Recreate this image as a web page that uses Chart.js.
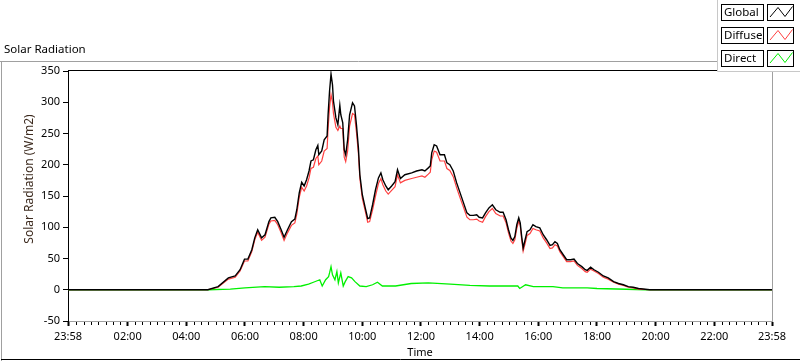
<!DOCTYPE html>
<html>
<head>
<meta charset="utf-8">
<script src="https://cdn.jsdelivr.net/npm/chart.js@4/dist/chart.umd.min.js"></script>
<style>
  html, body { margin: 0; padding: 0; background: #fff; }
  #wrap { width: 800px; height: 361px; }
</style>
</head>
<body>
<div id="wrap"><canvas id="c" width="800" height="361"></canvas></div>
<script>
// minutes since midnight; -2 and 1438 are both shown as 23:58
const times = [-2, 284, 305, 326, 340, 350, 359, 366, 374, 380,
  386, 394, 401, 409, 413, 421, 427, 434, 440, 447,
  455, 462, 466, 471, 476, 481, 486, 491, 495, 500,
  505, 509, 511, 517, 522, 528, 530, 533, 536, 539,
  541, 546, 550, 554, 556, 560, 563, 566, 570, 574,
  580, 584, 588, 592, 595, 600, 606, 611, 615, 621,
  627, 633, 638, 642, 648, 653, 660, 667, 672, 678,
  687, 701, 711, 722, 728, 735, 739, 742, 747, 752,
  759, 768, 773, 779, 786, 793, 800, 807, 814, 820,
  827, 834, 839, 846, 852, 859, 866, 873, 882, 888,
  894, 899, 904, 908, 912, 916, 920, 923, 926, 929,
  933, 937, 943, 949, 955, 963, 970, 977, 984, 989,
  994, 999, 1004, 1011, 1018, 1026, 1033, 1040, 1049, 1056,
  1060, 1067, 1074, 1083, 1093, 1103, 1114, 1124, 1134, 1144,
  1154, 1165, 1188, 1438];

const globalVals = [0, 0, 5, 19, 22, 32, 49, 49, 64, 83,
  96, 83, 88, 109, 115, 116, 109, 96, 84, 96,
  109, 113, 128, 155, 172, 166, 176, 190, 206, 208,
  224, 231, 216, 222, 240, 246, 280, 318, 345, 328,
  302, 275, 264, 295, 280, 267, 224, 216, 240, 280,
  299, 294, 264, 227, 184, 152, 131, 114, 115, 136,
  160, 179, 187, 176, 166, 160, 166, 173, 192, 178,
  184, 187, 190, 192, 190, 195, 198, 219, 232, 230,
  216, 216, 203, 200, 190, 171, 155, 139, 123, 119,
  119, 120, 116, 115, 123, 131, 136, 128, 124, 124,
  112, 96, 83, 79, 85, 104, 115, 107, 85, 67,
  80, 93, 96, 104, 101, 99, 88, 80, 71, 72,
  77, 74, 64, 56, 48, 48, 49, 42, 37, 32,
  31, 36, 32, 28, 22, 19, 13, 10, 8, 5,
  4, 2, 0, 0];

const diffuseVals = [0, 0, 4, 17, 20, 30, 46, 46, 61, 80,
  92, 79, 84, 105, 110, 111, 104, 91, 79, 91,
  103, 107, 121, 148, 164, 158, 166, 179, 194, 196,
  210, 214, 200, 206, 222, 226, 258, 292, 312, 300,
  282, 260, 255, 262, 258, 258, 212, 205, 222, 262,
  282, 280, 252, 218, 178, 146, 126, 108, 109, 128,
  150, 170, 178, 168, 158, 153, 159, 165, 184, 171,
  175, 178, 180, 182, 180, 185, 188, 208, 222, 220,
  206, 206, 194, 191, 181, 163, 147, 132, 116, 112,
  112, 113, 110, 108, 117, 125, 130, 122, 118, 118,
  107, 91, 78, 74, 80, 98, 110, 103, 80, 62,
  74, 87, 90, 98, 96, 94, 83, 75, 66, 67,
  72, 70, 61, 53, 45, 45, 46, 39, 34, 29,
  28, 33, 30, 26, 20, 17, 12, 9, 7, 4,
  3, 1, 0, 0];

const directTimes = [-2, 285, 330, 360, 400, 430, 460, 475, 490, 500,
  513, 518, 525, 531, 533, 536, 539, 544, 548, 551,
  556, 561, 565, 571, 578, 585, 595, 608, 621, 631,
  641, 668, 700, 735, 780, 820, 860, 900, 918, 922,
  934, 950, 990, 1010, 1060, 1080, 1180, 1438];
const directVals = [0, 0, 1, 3, 5, 4, 5, 6, 9, 12,
  16, 6, 16, 21, 27, 37, 24, 16, 29, 11,
  27, 6, 13, 21, 19, 13, 6, 5, 8, 12,
  6, 6, 10, 11, 9, 7, 6, 6, 6, 2,
  8, 5, 5, 3, 3, 2, 0, 0];

const seriesNames = ['Global', 'Diffuse', 'Direct'];
const seriesColors = ['#000000', '#ff4040', '#00f000'];
const xTickMinutes = [-2, 120, 240, 360, 480, 600, 720, 840, 960, 1080, 1200, 1320, 1438];
const yTickValues = [-50, 0, 50, 100, 150, 200, 250, 300, 350];

const FONT = 'Noto Sans';

function fmt(m) {
  if (m < 0) m += 1440;
  const h = Math.floor(m / 60), mm = m % 60;
  return String(h).padStart(2, '0') + ':' + String(mm).padStart(2, '0');
}

const pts = (xs, ys) => xs.map((x, i) => ({ x: x, y: ys[i] }));

// frame, titles, minor ticks and the boxed legend
const decor = {
  id: 'decor',
  afterDraw(chart) {
    const ctx = chart.ctx, a = chart.chartArea, xs = chart.scales.x;
    ctx.save();
    // outer frame
    ctx.lineWidth = 1;
    ctx.strokeStyle = '#a0a0a0';
    ctx.beginPath();
    ctx.moveTo(0, 61.5); ctx.lineTo(717, 61.5);
    ctx.moveTo(1.5, 61.5); ctx.lineTo(1.5, 361);
    ctx.stroke();
    ctx.strokeStyle = '#000';
    ctx.beginPath();
    ctx.moveTo(1, 359.5); ctx.lineTo(800, 359.5);
    ctx.stroke();
    // plot frame top / right
    ctx.beginPath();
    ctx.strokeStyle = '#000';
    ctx.moveTo(a.left, a.top - 0.5); ctx.lineTo(a.right, a.top - 0.5);
    ctx.stroke();
    ctx.beginPath();
    ctx.strokeStyle = '#a0a0a0';
    ctx.moveTo(a.right + 0.5, a.top); ctx.lineTo(a.right + 0.5, a.bottom + 1);
    ctx.stroke();
    // minor x ticks every 15 min
    ctx.strokeStyle = '#000';
    ctx.beginPath();
    for (let m = 15; m < 1438; m += 15) {
      if (m % 120 === 0) continue;
      const px = Math.round(xs.getPixelForValue(m)) + 0.5;
      ctx.moveTo(px, a.bottom + 1); ctx.lineTo(px, a.bottom + 4);
    }
    ctx.stroke();
    // texts
    ctx.fillStyle = '#000';
    ctx.font = '11.5px "' + FONT + '"';
    ctx.textBaseline = 'middle';
    ctx.textAlign = 'left';
    ctx.fillText('Solar Radiation', 4, 50);
    ctx.textAlign = 'center';
    ctx.font = '11px "' + FONT + '"';
    ctx.fillText('Time', (a.left + a.right) / 2, 353);
    ctx.save();
    ctx.translate(30, 179);
    ctx.rotate(-Math.PI / 2);
    ctx.fillStyle = '#3d2b1f';
    ctx.font = '12px "' + FONT + '"';
    ctx.fillText('Solar Radiation (W/m2)', 0, 0);
    ctx.restore();
    // legend panel
    ctx.fillStyle = '#fff';
    ctx.fillRect(717, 0, 83, 71);
    ctx.strokeStyle = '#c8c8c8';
    ctx.beginPath();
    ctx.moveTo(717.5, 0); ctx.lineTo(717.5, 71.5); ctx.lineTo(800, 71.5);
    ctx.stroke();
    seriesNames.forEach((name, i) => {
      const y0 = 4 + i * 23;
      ctx.strokeStyle = '#000';
      ctx.strokeRect(721.5, y0 + 0.5, 42, 16);
      ctx.strokeRect(767.5, y0 + 0.5, 26, 16);
      ctx.fillStyle = '#000';
      ctx.textAlign = 'left';
      ctx.font = '11.5px "' + FONT + '"';
      ctx.fillText(name, 724, y0 + 8.5);
      ctx.strokeStyle = seriesColors[i];
      ctx.beginPath();
      ctx.moveTo(770, y0 + 13); ctx.lineTo(778, y0 + 3.5);
      ctx.lineTo(785, y0 + 12.5); ctx.lineTo(792.5, y0 + 2.5);
      ctx.stroke();
    });
    ctx.restore();
  }
};

new Chart(document.getElementById('c'), {
  type: 'line',
  data: {
    datasets: [
      { label: seriesNames[0], data: pts(times, globalVals), borderColor: seriesColors[0], borderWidth: 1.4 },
      { label: seriesNames[1], data: pts(times, diffuseVals), borderColor: seriesColors[1], borderWidth: 1.2 },
      { label: seriesNames[2], data: pts(directTimes, directVals), borderColor: seriesColors[2], borderWidth: 1.3 }
    ]
  },
  options: {
    responsive: false,
    animation: false,
    events: [],
    layout: { padding: { left: 0, right: 28, top: 71, bottom: 0 } },
    elements: {
      line: { tension: 0, fill: false },
      point: { radius: 0 }
    },
    plugins: { legend: { display: false }, tooltip: { enabled: false }, title: { display: false } },
    scales: {
      x: {
        type: 'linear',
        min: -2, max: 1438,
        afterBuildTicks: s => { s.ticks = xTickMinutes.map(v => ({ value: v })); },
        afterFit: s => { s.height = 40; },
        border: { color: '#a0a0a0', width: 1 },
        grid: { drawOnChartArea: false, tickLength: 5, tickWidth: 2, tickColor: '#000' },
        ticks: {
          maxRotation: 0, autoSkip: false, padding: 4,
          color: '#000', font: { family: FONT, size: 11 },
          callback: v => fmt(v)
        }
      },
      y: {
        min: -50, max: 350,
        afterBuildTicks: s => { s.ticks = yTickValues.map(v => ({ value: v })); },
        afterFit: s => { s.width = 68; },
        border: { color: '#000', width: 1 },
        grid: { drawOnChartArea: false, tickLength: 5, tickWidth: 1, tickColor: '#000' },
        ticks: { padding: 3, color: '#000', font: { family: FONT, size: 11 } }
      }
    }
  },
  plugins: [decor]
});
</script>
</body>
</html>
